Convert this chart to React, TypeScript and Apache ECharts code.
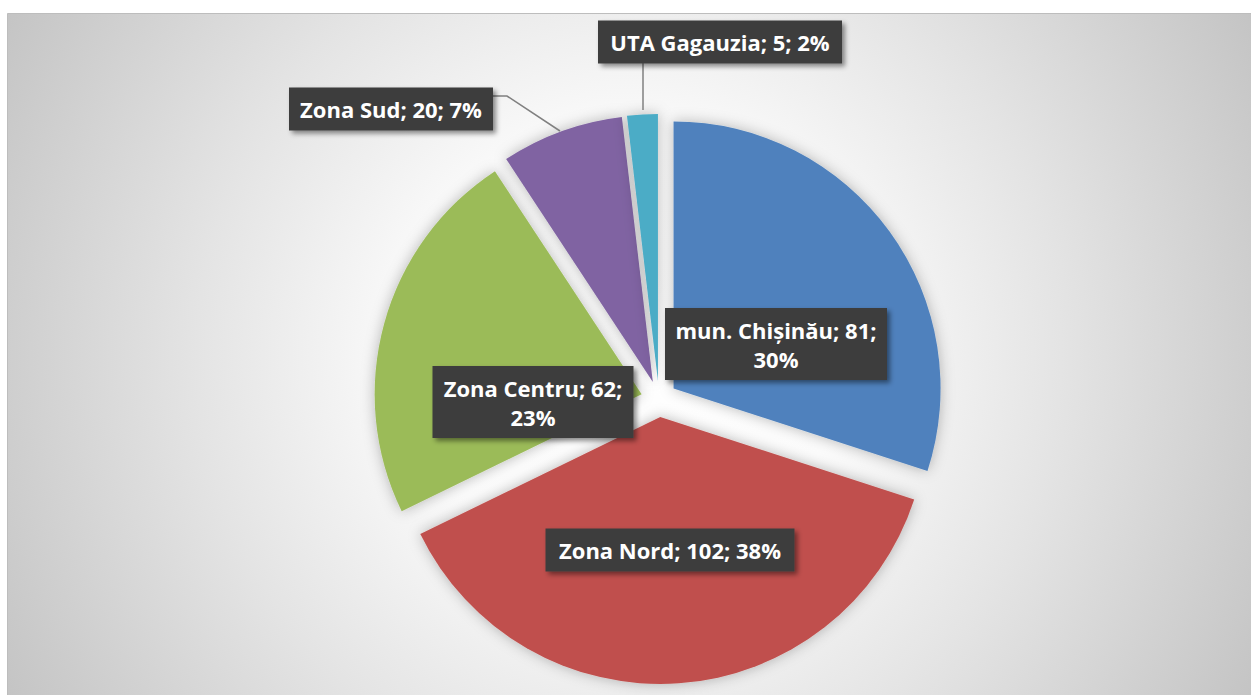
import React, { useEffect, useRef } from "react";
import * as echarts from "echarts";

const categories = ["mun. Chișinău", "Zona Nord", "Zona Centru", "Zona Sud", "UTA Gagauzia"];
const values = [81, 102, 62, 20, 5];
const colors = ["#4F81BD", "#C0504D", "#9BBB59", "#8064A2", "#4BACC6"];
const twoLineLabels = ["mun. Chișinău", "Zona Centru"];

// label layout (positions / box widths), kept separate from the data
const labelLayouts: { cx: number; cy: number; w: number; line?: number[][] }[] = [
  { cx: 776, cy: 344, w: 222 },
  { cx: 670, cy: 550, w: 249 },
  { cx: 533, cy: 402, w: 201 },
  { cx: 391, cy: 109, w: 204, line: [[560, 131], [507, 96], [493, 96]] },
  { cx: 720, cy: 42, w: 244, line: [[643, 110], [643, 63]] },
];

const PAD_X = 8;
const CENTER = [659, 399];
const RADIUS = 267;

export default function App() {
  const ref = useRef<HTMLDivElement>(null);
  useEffect(() => {
    if (!ref.current) return;
    const chart = echarts.init(ref.current, null, { renderer: "svg" });
    const sliceData = categories.map((name, i) => ({
      name,
      value: values[i],
      selected: true,
      itemStyle: { color: colors[i] },
    }));
    const labelData = categories.map((name, i) => ({
      name,
      value: values[i],
      label: { width: labelLayouts[i].w - 2 * PAD_X },
      labelLine: { show: !!labelLayouts[i].line },
    }));
    chart.setOption({
      animation: false,
      backgroundColor: "#ffffff",
      graphic: [
        {
          type: "rect",
          z: 0,
          silent: true,
          shape: { x: 7.5, y: 13.5, width: 1250, height: 690 },
          style: {
            fill: new echarts.graphic.RadialGradient(629, 354, 720, [
              { offset: 0, color: "#ffffff" },
              { offset: 0.3, color: "#fbfbfb" },
              { offset: 0.6, color: "#e4e4e4" },
              { offset: 1, color: "#c3c3c3" },
            ], true),
            stroke: "#bdbdbd",
            lineWidth: 1,
          },
        },
      ],
      series: [
        {
          type: "pie",
          name: "slices",
          z: 2,
          center: CENTER,
          radius: RADIUS,
          startAngle: 90,
          clockwise: true,
          selectedMode: "multiple",
          selectedOffset: 18,
          emphasis: { disabled: true },
          itemStyle: {
            shadowBlur: 14,
            shadowColor: "rgba(0,0,0,0.28)",
          },
          label: { show: false },
          labelLine: { show: false },
          data: sliceData,
        },
        {
          type: "pie",
          name: "labels",
          z: 3,
          silent: true,
          center: CENTER,
          radius: RADIUS,
          startAngle: 90,
          clockwise: true,
          selectedMode: false,
          avoidLabelOverlap: false,
          percentPrecision: 0,
          emphasis: { disabled: true },
          itemStyle: { color: "rgba(0,0,0,0)" },
          label: {
            show: true,
            position: "outside",
            formatter: (p: any) =>
              twoLineLabels.includes(p.name)
                ? `${p.name}; ${p.value};\n${p.percent}%`
                : `${p.name}; ${p.value}; ${p.percent}%`,
            color: "#ffffff",
            fontFamily: "Open Sans",
            fontWeight: "bold",
            fontSize: 22,
            lineHeight: 29,
            align: "center",
            backgroundColor: "#3d3d3d",
            padding: [7, PAD_X],
            shadowBlur: 5,
            shadowOffsetX: 3,
            shadowOffsetY: 3,
            shadowColor: "rgba(0,0,0,0.45)",
          },
          labelLine: {
            show: true,
            lineStyle: { color: "#808080", width: 1.5 },
          },
          labelLayout: (params: any) => {
            const l = labelLayouts[params.dataIndex];
            const res: any = { x: l.cx, y: l.cy, align: "center", verticalAlign: "middle" };
            if (l.line) res.labelLinePoints = l.line;
            return res;
          },
          data: labelData,
        },
      ],
    });
    return () => chart.dispose();
  }, []);
  return (
    <div
      ref={ref}
      style={{ position: "fixed", left: 0, top: 0, width: 1251, height: 695, background: "#fff" }}
    />
  );
}
